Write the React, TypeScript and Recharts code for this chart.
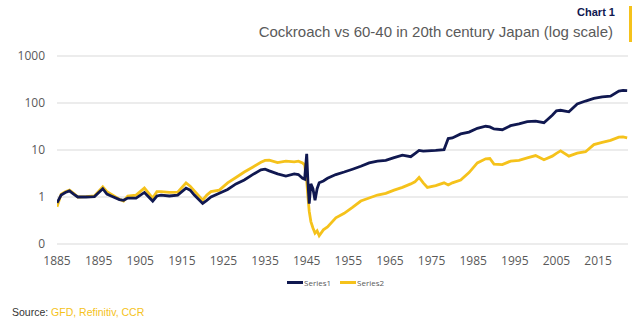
import { LineChart, Line, XAxis, YAxis, CartesianGrid } from 'recharts';

// years (fractional around 1945 to catch the crash)
const years = [
  1885, 1886, 1887, 1888, 1889, 1890, 1892, 1894, 1896, 1897, 1898, 1900, 1901, 1902, 1904, 1906,
  1908, 1909, 1910, 1912, 1914, 1916, 1917, 1918, 1920, 1921, 1922, 1924, 1926, 1928, 1930, 1932,
  1934, 1935, 1936, 1938, 1940, 1942, 1943, 1944, 1944.5, 1945, 1945.3, 1945.6, 1946, 1946.5, 1947,
  1947.5, 1948, 1949, 1950, 1952, 1954, 1956, 1958, 1960, 1962, 1964, 1966, 1968, 1970, 1971, 1972,
  1973, 1974, 1976, 1978, 1979, 1980, 1982, 1984, 1986, 1988, 1989, 1990, 1992, 1994, 1996, 1998,
  2000, 2002, 2004, 2005, 2006, 2008, 2010, 2012, 2014, 2016, 2018, 2020, 2021, 2022,
];

// Series1 - cockroach portfolio
const series1 = [
  0.75, 1.1, 1.25, 1.35, 1.15, 1.0, 1.0, 1.02, 1.5, 1.15, 1.05, 0.88, 0.85, 0.95, 0.95, 1.25,
  0.82, 1.05, 1.1, 1.05, 1.1, 1.55, 1.4, 1.1, 0.73, 0.85, 1.0, 1.2, 1.45, 1.9, 2.3, 3.0,
  3.8, 3.9, 3.6, 3.1, 2.8, 3.1, 3.0, 2.5, 2.4, 8.3, 2.0, 0.72, 1.9, 1.5, 0.85,
  1.5, 2.0, 2.2, 2.5, 3.0, 3.4, 3.9, 4.5, 5.3, 5.8, 6.0, 6.9, 7.8, 7.2, 8.4, 9.8,
  9.5, 9.6, 9.8, 10.2, 17.5, 18, 22, 24, 29, 32, 31, 28, 27, 33, 36, 40,
  41, 38, 55, 68, 70, 65, 95, 110, 125, 135, 140, 180, 185, 183,
];

// Series2 - 60-40 portfolio
const series2 = [
  0.62, 1.15, 1.3, 1.4, 1.2, 1.0, 1.02, 1.05, 1.65, 1.3, 1.15, 0.9, 0.82, 1.05, 1.1, 1.55,
  0.95, 1.3, 1.3, 1.25, 1.27, 2.0, 1.7, 1.35, 0.86, 1.1, 1.3, 1.4, 2.0, 2.6, 3.4, 4.3,
  5.5, 6.0, 6.1, 5.4, 5.8, 5.6, 5.8, 5.3, 4.8, 2.2, 1.0, 0.5, 0.3, 0.22, 0.17,
  0.19, 0.15, 0.2, 0.23, 0.36, 0.45, 0.6, 0.82, 0.95, 1.1, 1.2, 1.4, 1.6, 1.9, 2.1, 2.6,
  2.0, 1.6, 1.75, 2.0, 1.8, 2.0, 2.3, 3.3, 5.3, 6.5, 6.6, 5.0, 4.9, 5.8, 6.0, 6.8,
  7.6, 6.2, 7.4, 8.5, 9.6, 7.4, 8.6, 9.2, 13.0, 14.5, 16.0, 18.8, 19.0, 18.2,
];

const xTicks = [1885, 1895, 1905, 1915, 1925, 1935, 1945, 1955, 1965, 1975, 1985, 1995, 2005, 2015];
const yTicks = [0.1, 1, 10, 100, 1000];

const NAVY = '#101850';
const YELLOW = '#f5c21b';
const GREY = '#595959';

const data = years.map((y, i) => ({ year: y, s1: series1[i], s2: series2[i] }));

export default function App() {
  return (
    <div style={{ position: 'absolute', left: 0, top: 0, width: 643, height: 325, background: '#fff', fontFamily: '"Liberation Sans", Arial, sans-serif' }}>
      <div style={{ position: 'absolute', right: 28, top: 6, fontSize: 11, fontWeight: 700, color: NAVY }}>
        Chart 1
      </div>
      <div style={{ position: 'absolute', right: 30, top: 23, fontSize: 15, color: '#5a5a5a', whiteSpace: 'nowrap' }}>
        Cockroach vs 60-40 in 20th century Japan (log scale)
      </div>
      <div style={{ position: 'absolute', left: 629, top: 6, width: 3, height: 36, background: YELLOW }} />

      <LineChart width={643} height={270} data={data} margin={{ top: 56, right: 15, left: 0, bottom: 0 }}>
        <CartesianGrid vertical={false} stroke="#d9d9d9" />
        <XAxis
          dataKey="year"
          type="number"
          domain={[1885, 2022.2]}
          ticks={xTicks}
          interval={0}
          axisLine={false}
          tickLine={false}
          tickSize={0}
          tickMargin={12}
          height={26}
          allowDataOverflow
          tick={{ fill: GREY, fontSize: 12, fontFamily: '"Open Sans", sans-serif' }}
        />
        <YAxis
          scale="log"
          domain={[0.1, 1000]}
          ticks={yTicks}
          allowDataOverflow
          axisLine={false}
          tickLine={false}
          tickSize={0}
          tickMargin={12}
          width={57}
          tickFormatter={(v: number) => (v < 1 ? '0' : String(v))}
          tick={{ fill: GREY, fontSize: 12, fontFamily: '"Open Sans", sans-serif' }}
        />
        <Line type="linear" dataKey="s2" stroke={YELLOW} strokeWidth={2.8} dot={false} isAnimationActive={false} />
        <Line type="linear" dataKey="s1" stroke={NAVY} strokeWidth={2.8} dot={false} isAnimationActive={false} />
      </LineChart>

      <div style={{ position: 'absolute', left: 287, top: 277, display: 'flex', alignItems: 'center', fontSize: 8, color: GREY, fontFamily: '"Open Sans", sans-serif' }}>
        <span style={{ display: 'inline-block', width: 16, height: 3, background: NAVY }} />
        <span style={{ marginLeft: 1 }}>Series1</span>
        <span style={{ display: 'inline-block', width: 16, height: 3, background: YELLOW, marginLeft: 9 }} />
        <span style={{ marginLeft: 1 }}>Series2</span>
      </div>

      <div style={{ position: 'absolute', left: 12, top: 306, fontSize: 10.5, color: '#333' }}>
        Source: <span style={{ color: YELLOW }}>GFD, Refinitiv, CCR</span>
      </div>
    </div>
  );
}
